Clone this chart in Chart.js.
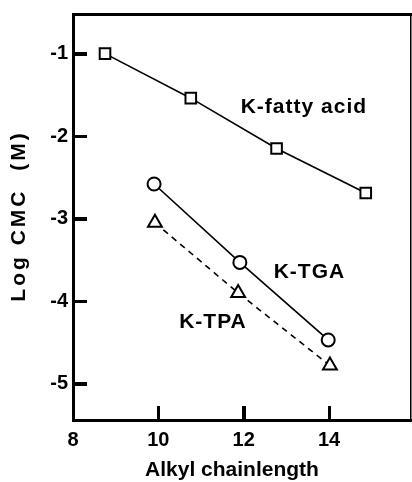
<!DOCTYPE html>
<html>
<head>
<meta charset="utf-8">
<script src="https://cdn.jsdelivr.net/npm/chart.js@4.4.1/dist/chart.umd.min.js"></script>
<style>
  html, body { margin: 0; padding: 0; background: #fff; overflow: hidden; }
  canvas { display: block; }
</style>
</head>
<body>
<canvas id="chart-cmc" width="412" height="482"></canvas>
<script>
/* Log CMC vs alkyl chain length: K-fatty acid, K-TGA, K-TPA */

const xTicks = [8, 10, 12, 14];
const yTicks = [-5, -4, -3, -2, -1];

const fattyX = [8.75, 10.76, 12.77, 14.86];
const fattyY = [-1.0, -1.54, -2.15, -2.69];

const tgaX = [9.9, 11.91, 13.98];
const tgaY = [-2.58, -3.53, -4.47];

const tpaX = [9.92, 11.87, 14.02];
const tpaY = [-3.05, -3.9, -4.78];

const seriesNames = ['K-fatty acid', 'K-TGA', 'K-TPA'];
const nameX = [13.41, 13.54, 11.28];
const nameY = [-1.65, -3.65, -4.25];

const xTitle = 'Alkyl chainlength';
const yTitle = 'Log CMC  (M)';

(function () {
  'use strict';

  const ink = '#000';
  const font = '"Liberation Sans", Arial, Helvetica, sans-serif';
  const tickLen = 14;
  const xMin = 8, xMax = 15.92, yMin = -5.44, yMax = -0.52;

  const pts = (xs, ys) => xs.map((v, i) => ({ x: v, y: ys[i] }));

  // fixed box size, no extra label padding
  const fixBox = (w, h) => (s) => {
    if (w !== null) s.width = w;
    if (h !== null) s.height = h;
    s.paddingTop = s.paddingBottom = s.paddingLeft = s.paddingRight = 0;
  };

  // inner axes sit 14px inside the frame; their ticks point back to it
  const innerTicks = (ticks) => ({
    type: 'linear',
    afterBuildTicks: (s) => { s.ticks = ticks.map(v => ({ value: v })); },
    grid: { drawOnChartArea: false, drawTicks: true, tickLength: tickLen, color: ink, lineWidth: 2.5 },
    ticks: { display: false },
    border: { display: false }
  });

  function drawInwardTicks(chart) {
    const ctx = chart.ctx;
    const area = chart.chartArea;
    const x = chart.scales.x;
    const y = chart.scales.y;
    ctx.save();
    ctx.fillStyle = ink;
    xTicks.forEach(v => {
      const px = Math.round(x.getPixelForValue(v));
      ctx.fillRect(px - 1, area.bottom - tickLen, 3, tickLen);
    });
    yTicks.forEach(v => {
      const py = Math.round(y.getPixelForValue(v));
      ctx.fillRect(area.left, py - 1, tickLen, 3);
    });
    ctx.restore();
  }

  // inward tick marks, axis titles, in-plot series names
  const textPlugin = {
    id: 'cmcTexts',
    afterDatasetsDraw(chart) {
      drawInwardTicks(chart);
    },
    afterDraw(chart) {
      const ctx = chart.ctx;
      const x = chart.scales.x;
      const y = chart.scales.y;
      drawInwardTicks(chart);
      ctx.save();
      ctx.fillStyle = ink;
      ctx.textAlign = 'center';
      ctx.textBaseline = 'middle';
      ctx.font = 'bold 21px ' + font;

      ctx.letterSpacing = '1px';
      seriesNames.forEach((t, i) => {
        ctx.fillText(t, x.getPixelForValue(nameX[i]), y.getPixelForValue(nameY[i]));
      });

      ctx.letterSpacing = '0px';
      ctx.fillText(xTitle, 232, 470);

      ctx.translate(19, 216);
      ctx.rotate(-Math.PI / 2);
      ctx.letterSpacing = '3px';
      ctx.fillText(yTitle, 0, 0);
      ctx.restore();
    }
  };

  const ctxEl = document.getElementById('chart-cmc');

  new Chart(ctxEl, {
    type: 'scatter',
    data: {
      datasets: [
        {
          data: pts(fattyX, fattyY),
          showLine: true,
          borderColor: ink,
          borderWidth: 1.6,
          pointStyle: 'rect',
          pointRadius: 7.5,
          pointBorderWidth: 2,
          pointBorderColor: ink,
          pointBackgroundColor: '#fff'
        },
        {
          data: pts(tgaX, tgaY),
          showLine: true,
          borderColor: ink,
          borderWidth: 1.6,
          pointStyle: 'circle',
          pointRadius: 6.5,
          pointBorderWidth: 2,
          pointBorderColor: ink,
          pointBackgroundColor: '#fff'
        },
        {
          data: pts(tpaX, tpaY),
          showLine: true,
          borderColor: ink,
          borderWidth: 1.6,
          borderDash: [6, 5],
          pointStyle: 'triangle',
          pointRadius: 8,
          pointBorderWidth: 2,
          pointBorderColor: ink,
          pointBackgroundColor: '#fff'
        }
      ]
    },
    options: {
      responsive: false,
      animation: false,
      devicePixelRatio: 1,
      layout: { autoPadding: false, padding: { top: 14, right: 1, left: 0, bottom: 0 } },
      plugins: {
        legend: { display: false },
        tooltip: { enabled: false }
      },
      scales: {
        x: {
          type: 'linear',
          position: 'bottom',
          min: xMin,
          max: xMax,
          afterBuildTicks: (s) => { s.ticks = xTicks.map(v => ({ value: v })); },
          afterFit: fixBox(null, 62),
          grid: { display: false, drawTicks: false },
          border: { color: ink, width: 3 },
          ticks: { color: ink, padding: 8, font: { family: font, size: 20, weight: 'bold' } }
        },
        y: {
          type: 'linear',
          position: 'left',
          min: yMin,
          max: yMax,
          afterBuildTicks: (s) => { s.ticks = yTicks.map(v => ({ value: v })); },
          afterFit: fixBox(73, null),
          grid: { display: false, drawTicks: false },
          border: { color: ink, width: 3 },
          ticks: { color: ink, padding: 5, font: { family: font, size: 20, weight: 'bold' } }
        },
        yIn: Object.assign(innerTicks(yTicks), {
          position: { x: xMin + tickLen * (xMax - xMin) / 338 },
          min: yMin,
          max: yMax
        }),
        xIn: Object.assign(innerTicks(xTicks), {
          axis: 'x',
          position: { y: yMin + tickLen * (yMax - yMin) / 406 },
          min: xMin,
          max: xMax
        }),
        xTop: {
          type: 'linear',
          position: 'top',
          afterFit: fixBox(null, 0),
          grid: { display: false, drawTicks: false },
          ticks: { display: false },
          border: { color: ink, width: 3 }
        },
        yRight: {
          type: 'linear',
          position: 'right',
          afterFit: fixBox(0, null),
          grid: { display: false, drawTicks: false },
          ticks: { display: false },
          border: { color: ink, width: 1.5 }
        }
      }
    },
    plugins: [textPlugin]
  });
})();
</script>
</body>
</html>
